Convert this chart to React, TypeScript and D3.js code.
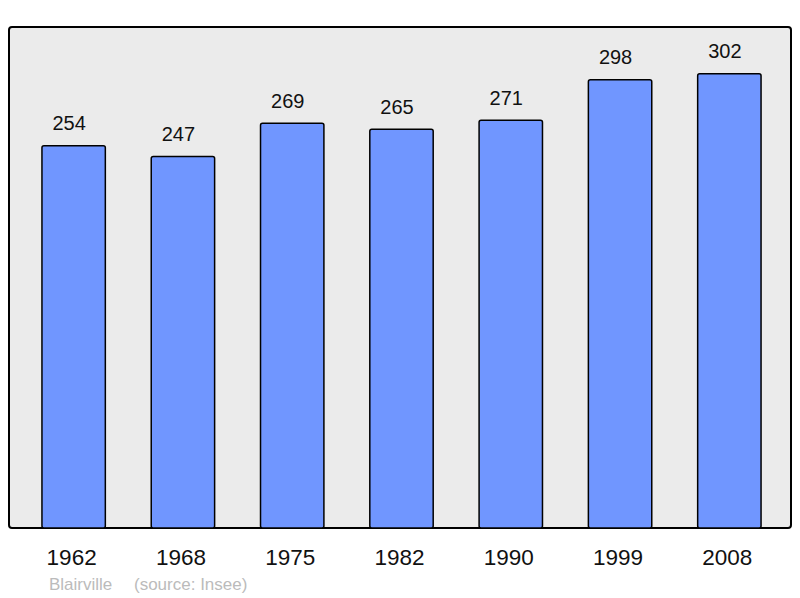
import React from "react";
import * as d3 from "d3";

const years = ["1962", "1968", "1975", "1982", "1990", "1999", "2008"];
const population = [254, 247, 269, 265, 271, 298, 302];
const townName = "Blairville";
const sourceText = "(source: Insee)";

export default function App() {
  const W = 800;
  const H = 598;
  const box = { x: 9, y: 27, w: 782, h: 501 };
  const x = d3
    .scaleBand<string>()
    .domain(years)
    .range([19, 784])
    .paddingInner(0.42)
    .paddingOuter(0.21);
  const y = d3.scaleLinear().domain([0, 333]).range([box.y + box.h, box.y]);
  const font = "'Liberation Sans', Arial, sans-serif";
  return (
    <svg
      width={W}
      height={H}
      style={{ position: "absolute", left: 0, top: 0, background: "#fff" }}
    >
      <rect
        x={box.x}
        y={box.y}
        width={box.w}
        height={box.h}
        rx={3}
        fill="#ebebeb"
        stroke="#000"
        strokeWidth={2}
      />
      {years.map((yr, i) => {
        const bx = x(yr)!;
        const bw = x.bandwidth();
        const top = y(population[i]);
        return (
          <g key={yr}>
            <rect
              x={bx}
              y={top}
              width={bw}
              height={y(0) - top}
              rx={2}
              fill="#7096ff"
              stroke="#000"
              strokeWidth={1.5}
            />
            <text
              x={bx + bw / 2 - 4.5}
              y={top - 15.5}
              textAnchor="middle"
              fontFamily={font}
              fontSize={20}
              fill="#111"
            >
              {population[i]}
            </text>
            <text
              x={bx + bw / 2 - 2}
              y={564.5}
              textAnchor="middle"
              fontFamily={font}
              fontSize={22.5}
              fill="#111"
            >
              {yr}
            </text>
          </g>
        );
      })}
      <text x={49} y={590} fontFamily={font} fontSize={17} fill="#bbb">
        {townName}
      </text>
      <text x={134} y={590} fontFamily={font} fontSize={17} fill="#bbb">
        {sourceText}
      </text>
    </svg>
  );
}
